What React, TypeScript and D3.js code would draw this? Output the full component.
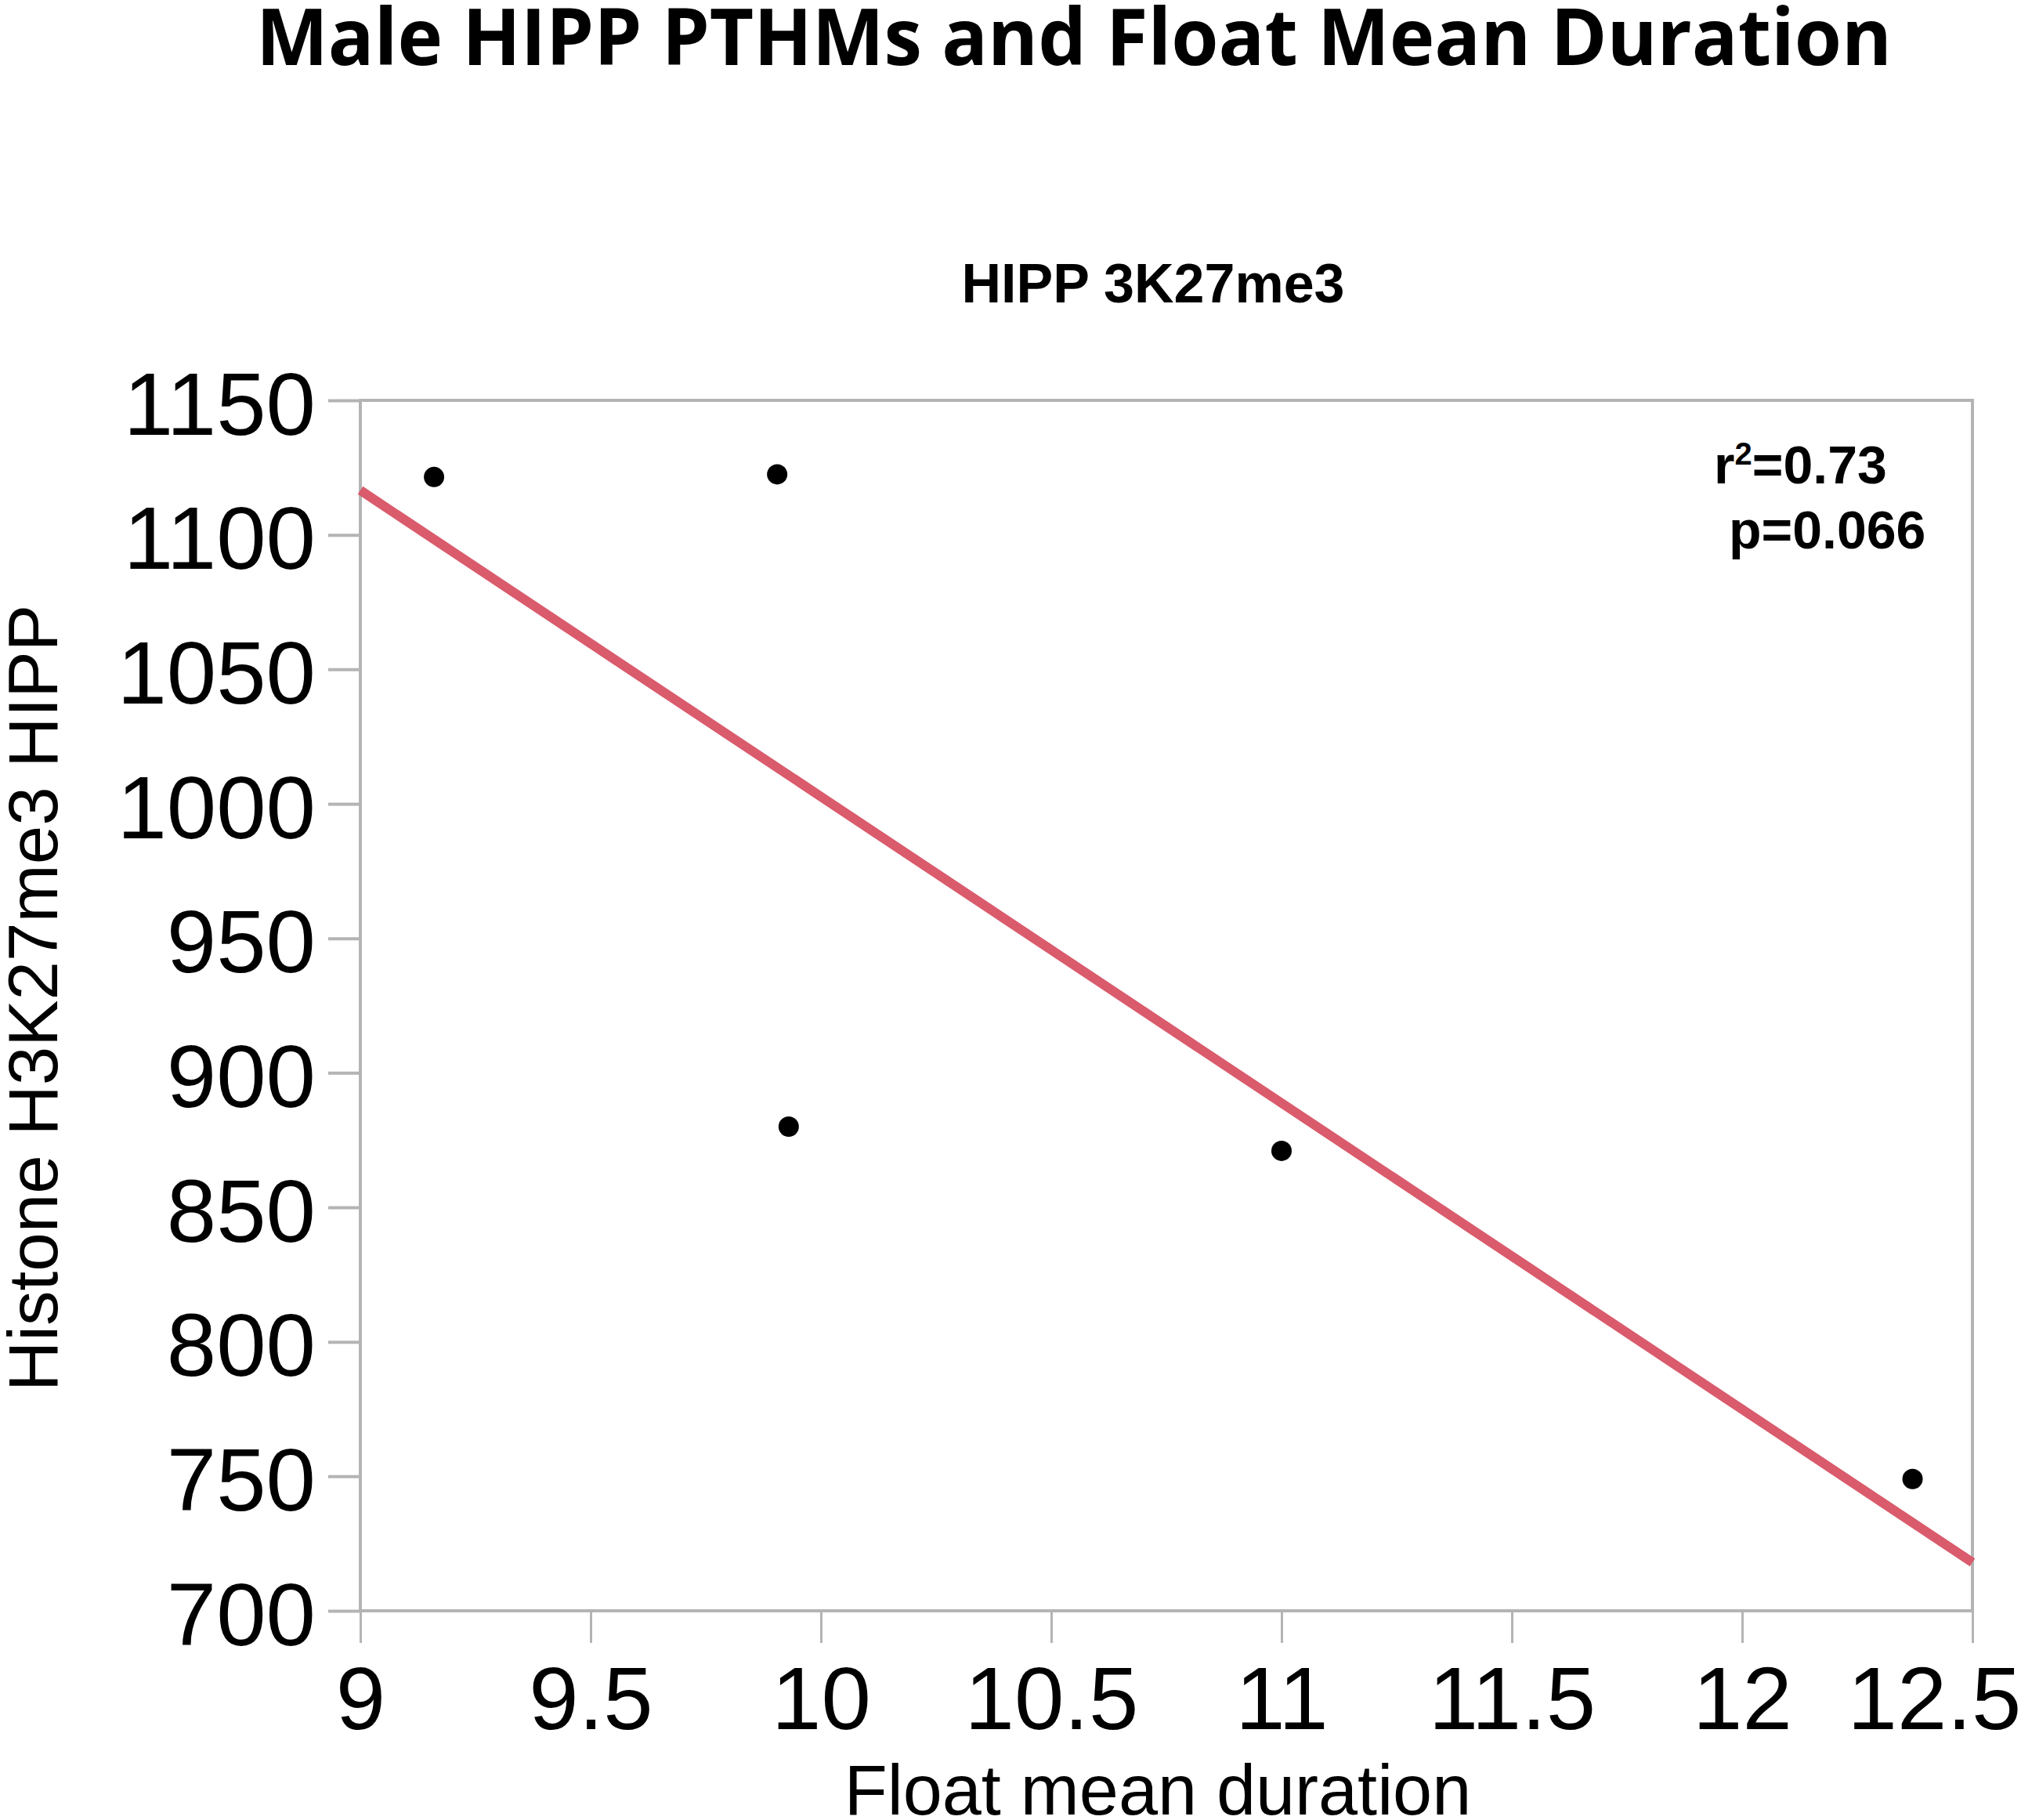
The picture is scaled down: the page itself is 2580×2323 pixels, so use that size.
import React, { Component } from 'react';
import * as d3 from 'd3';

// data
const floatMeanDuration = [9.16, 9.905, 9.93, 11.0, 12.37];
const h3k27me3Hipp = [1121.5, 1122.5, 880, 871, 749];
const xTicks = [9, 9.5, 10, 10.5, 11, 11.5, 12, 12.5];
const yTicks = [700, 750, 800, 850, 900, 950, 1000, 1050, 1100, 1150];
const statLines = ['0.73', '0.066'];

const titleText = 'Male HIPP PTHMs and Float Mean Duration';
const subtitleText = 'HIPP 3K27me3';
const xLabel = 'Float mean duration';
const yLabel = 'Histone H3K27me3 HIPP';

const W = 2580;
const H = 2323;
const AXIS_GRAY = '#b4b4b4';
const FIT_RED = '#d95b6c';
const SANS = '"Liberation Sans", Arial, Helvetica, sans-serif';

class App extends Component {
  svgRef = React.createRef<SVGSVGElement>();

  componentDidMount() {
    this.draw();
  }

  draw() {
    const plot = { left: 460, right: 2518, top: 511, bottom: 2056 };
    const svg = d3.select(this.svgRef.current);
    svg.selectAll('*').remove();

    const x = d3.scaleLinear().domain([9, 12.5]).range([plot.left, plot.right]);
    const y = d3.scaleLinear().domain([700, 1150]).range([plot.bottom, plot.top]);

    // titles
    svg.append('text')
      .attr('x', 327).attr('y', 83)
      .attr('textLength', 2088).attr('lengthAdjust', 'spacingAndGlyphs')
      .attr('font-family', '"Open Sans", "Noto Sans", sans-serif')
      .attr('font-weight', 700).attr('font-size', 101)
      .text(titleText);

    svg.append('text')
      .attr('x', 1472).attr('y', 386)
      .attr('text-anchor', 'middle')
      .attr('font-family', SANS).attr('font-weight', 700).attr('font-size', 70)
      .text(subtitleText);

    // frame
    svg.append('rect')
      .attr('x', plot.left).attr('y', plot.top)
      .attr('width', plot.right - plot.left).attr('height', plot.bottom - plot.top)
      .attr('fill', 'none').attr('stroke', AXIS_GRAY).attr('stroke-width', 4);

    // x axis
    svg.append('g')
      .attr('transform', `translate(0,${plot.bottom})`)
      .call(d3.axisBottom(x).tickValues(xTicks).tickSize(41).tickFormat((d: any) => String(d)))
      .call((g: any) => g.select('.domain').remove())
      .call((g: any) => g.selectAll('line').attr('stroke', AXIS_GRAY).attr('stroke-width', 3))
      .call((g: any) => g.selectAll('text')
        .attr('y', 151).attr('dy', 0)
        .attr('font-family', SANS).attr('font-size', 114).attr('fill', '#000'))
      .call((g: any) => g.selectAll('.tick').filter((d: any) => d === 12.5).select('text')
        .attr('text-anchor', 'end').attr('x', 62));

    // y axis
    svg.append('g')
      .attr('transform', `translate(${plot.left},0)`)
      .call(d3.axisLeft(y).tickValues(yTicks).tickSize(41).tickPadding(16).tickFormat(d3.format('d')))
      .call((g: any) => g.select('.domain').remove())
      .call((g: any) => g.selectAll('line').attr('stroke', AXIS_GRAY).attr('stroke-width', 4))
      .call((g: any) => g.selectAll('text')
        .attr('dy', '0.38em')
        .attr('font-family', SANS).attr('font-size', 114).attr('fill', '#000'));

    // axis labels
    svg.append('text')
      .attr('x', 1478).attr('y', 2316)
      .attr('text-anchor', 'middle')
      .attr('font-family', SANS).attr('font-size', 90)
      .text(xLabel);

    svg.append('text')
      .attr('transform', 'translate(73,1274) rotate(-90)')
      .attr('text-anchor', 'middle')
      .attr('font-family', SANS).attr('font-size', 89)
      .text(yLabel);

    // least squares fit
    const mx = d3.mean(floatMeanDuration) as number;
    const my = d3.mean(h3k27me3Hipp) as number;
    const sxy = d3.sum(floatMeanDuration, (v, i) => (v - mx) * (h3k27me3Hipp[i] - my));
    const sxx = d3.sum(floatMeanDuration, v => (v - mx) * (v - mx));
    const slope = sxy / sxx;
    const fit = (v: number) => my + slope * (v - mx);
    const domain = x.domain();

    svg.append('path')
      .datum(domain)
      .attr('d', d3.line<number>().x(d => x(d)).y(d => y(fit(d))))
      .attr('fill', 'none')
      .attr('stroke', FIT_RED)
      .attr('stroke-width', 12);

    // points
    svg.append('g')
      .selectAll('circle')
      .data(floatMeanDuration)
      .join('circle')
      .attr('cx', d => x(d))
      .attr('cy', (d, i) => y(h3k27me3Hipp[i]))
      .attr('r', 13)
      .attr('fill', '#000');

    // stats
    const r2 = svg.append('text')
      .attr('x', 2188).attr('y', 617)
      .attr('font-family', SANS).attr('font-weight', 700).attr('font-size', 68);
    r2.append('tspan').text('r');
    r2.append('tspan').attr('font-size', 40).attr('dy', -24).text('2');
    r2.append('tspan').attr('dy', 24).text('=' + statLines[0]);

    svg.append('text')
      .attr('x', 2207).attr('y', 700)
      .attr('font-family', SANS).attr('font-weight', 700).attr('font-size', 68)
      .text('p=' + statLines[1]);
  }

  render() {
    return (
      <svg
        ref={this.svgRef}
        width={W}
        height={H}
        viewBox={`0 0 ${W} ${H}`}
        style={{ position: 'absolute', left: 0, top: 0, background: '#fff' }}
      />
    );
  }
}

export default App;
